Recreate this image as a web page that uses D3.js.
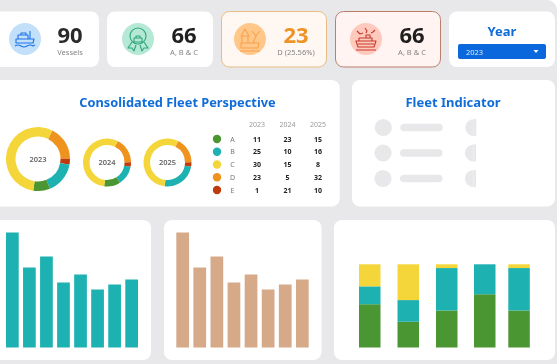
<!DOCTYPE html>
<html>
<head>
<meta charset="utf-8">
<script src="https://cdnjs.cloudflare.com/ajax/libs/d3/7.8.5/d3.min.js"></script>
<style>
  html, body { margin: 0; padding: 0; background: #e8e8ea; overflow: hidden; }
  text { font-family: "Noto Sans", "Open Sans", sans-serif; }
  /* source is a soft screenshot */
  svg { filter: blur(0.3px); }
</style>
</head>
<body>
<div id="chart"></div>
<script>
// kpi row
const kpiValues = ["90", "66", "23", "66"];
const kpiLabels = ["Vessels", "A, B & C", "D (25.56%)", "A, B & C"];

// donuts, shares
const years = ["2023", "2024", "2025"];
const sliceNames = ["D", "E", "B", "A", "C"];
const donut2023 = [17.5, 3, 16, 8.5, 55];
const donut2024 = [17.5, 3, 13, 11, 55.5];
const donut2025 = [17.5, 3, 24, 0, 55.5];

// legend table
const tableNames = ["A", "B", "C", "D", "E"];
const table2023 = [11, 25, 30, 23, 1];
const table2024 = [23, 10, 15, 5, 21];
const table2025 = [15, 16, 8, 32, 10];

// bottom bars
const barValues = [115, 80, 91, 65, 73, 58, 63, 68];
const stackKeys = ["A", "B", "C"];
const stackA = [52, 31, 44.5, 64, 44.5];
const stackB = [21.5, 26, 51, 36, 51];
const stackC = [26.5, 43, 4.5, 0, 4.5];

const colors = { A: "#4a9632", B: "#1eb1b2", C: "#f4d63a", D: "#ef931f", E: "#bf3a0c" };
const blue = "#0f6cd8";

const svg = d3.select("#chart").append("svg")
  .attr("width", 557)
  .attr("height", 364)
  .style("display", "block");

function card(x, y, w, h, fill, stroke) {
  return svg.append("rect")
    .attr("x", x).attr("y", y)
    .attr("width", w).attr("height", h)
    .attr("rx", 8)
    .attr("fill", fill || "#fff")
    .attr("stroke", stroke || "none");
}

// top right page corner
svg.append("path").attr("d", "M547,0H557V10A10,10 0 0 0 547,0Z").attr("fill", "#fff");

// ---- kpi cards
const kpiCards = [
  { x: -10, w: 109, fill: "#fff", cx: 25, tx: 70, num: "#2a2a2a", icon: "#1a73e8", disc: "#c3e0fa" },
  { x: 107, w: 106, fill: "#fff", cx: 138, tx: 184, num: "#1f1f1f", icon: "#2ea57e", disc: "#b5e8d5" },
  { x: 221.5, w: 105, fill: "#fff8f2", stroke: "#e8bc84", cx: 250, tx: 296, num: "#ee9426", icon: "#f8a24c", disc: "#ffc78a" },
  { x: 335.5, w: 105, fill: "#fff4f1", stroke: "#b97f6d", cx: 366, tx: 412, num: "#1f1f1f", icon: "#c4392b", disc: "#ffc9bd" }
];

const iconPaths = [
  // ship
  "M-9,4 L-9,0 H9 L8,4 Z M-7,0 V-4 H3 V0 M-4,-4 V-6 H1 V-4 M5,0 V-8 M-10,7 Q-7,5 -4,7 T2,7 T8,7 L10,6",
  // badge
  "M-8,-3 A8,8 0 1 1 8,-3 A8,8 0 1 1 -8,-3 Z M-4,-1 H4 V3 H-4 Z M-2,-1 V-3 H2 V-1 M-6,3 L-10,9 L-6,9 L-4,12 L-2,6 M6,3 L10,9 L6,9 L4,12 L2,6",
  // buoy and wreck
  "M-9,-3 L-5,-10 L-1,-3 Z M-8,-3 V4 H-2 V-3 M-9,4 H9 L8,9 H-9 Z M3,4 L6,-3 L2,-8 M6,-3 L10,-8 M-10,12 H10",
  // ship on fire
  "M-10,2 H10 L8,8 H-8 Z M-7,2 V-1 H6 V2 M0,-1 V-4 H4 V-1 M-8,5 H8 M-10,11 H10 M-9,-8 L-6,-5 L-3,-6 M-1,-11 L1,-8 L0,-6 M5,-6 L7,-7 L9,-9"
];

kpiCards.forEach((k, i) => {
  card(k.x, 11.5, k.w, 55.5, k.fill, k.stroke);

  svg.append("circle").attr("cx", k.cx).attr("cy", 39).attr("r", 16).attr("fill", k.disc);

  svg.append("path")
    .attr("transform", `translate(${k.cx},39)`)
    .attr("d", iconPaths[i])
    .attr("fill", "none")
    .attr("stroke", k.icon)
    .attr("stroke-width", 1.1)
    .attr("stroke-linejoin", "round");

  svg.append("text")
    .attr("x", k.tx).attr("y", 43)
    .attr("text-anchor", "middle")
    .attr("font-size", 22)
    .attr("font-weight", 700)
    .attr("fill", k.num)
    .text(kpiValues[i]);

  svg.append("text")
    .attr("x", k.tx).attr("y", 54.5)
    .attr("text-anchor", "middle")
    .attr("font-size", 7.5)
    .attr("fill", "#858585")
    .text(kpiLabels[i]);
});

// year selector
card(449, 11.5, 106, 55.5);
svg.append("text")
  .attr("x", 502).attr("y", 36)
  .attr("text-anchor", "middle")
  .attr("font-size", 13)
  .attr("font-weight", 700)
  .attr("fill", blue)
  .text("Year");
svg.append("rect")
  .attr("x", 458).attr("y", 44)
  .attr("width", 88).attr("height", 15)
  .attr("rx", 2)
  .attr("fill", "#0a68dc");
svg.append("text")
  .attr("x", 466).attr("y", 54.5)
  .attr("font-size", 7.5)
  .attr("fill", "#dfeaf8")
  .text("2023");
svg.append("path").attr("d", "M533.5,50 h5 l-2.5,3 Z").attr("fill", "#fff");

// ---- consolidated fleet
card(-10, 80, 349.7, 126.5);
svg.append("text")
  .attr("x", 177.5).attr("y", 107)
  .attr("text-anchor", "middle")
  .attr("font-size", 12.8)
  .attr("font-weight", 700)
  .attr("fill", blue)
  .text("Consolidated Fleet Perspective");

const pie = d3.pie()
  .sort(null)
  .startAngle(26.6 * Math.PI / 180)
  .endAngle((360 + 26.6) * Math.PI / 180);

[
  { values: donut2023, cx: 38, cy: 159, outer: 32, inner: 22.5, fs: 7.5 },
  { values: donut2024, cx: 107, cy: 162.5, outer: 24, inner: 17.5, fs: 7.5 },
  { values: donut2025, cx: 167.5, cy: 162.5, outer: 24, inner: 17.5, fs: 7.5 }
].forEach((d, i) => {
  const arc = d3.arc().innerRadius(d.inner).outerRadius(d.outer);
  const g = svg.append("g").attr("transform", `translate(${d.cx},${d.cy})`);
  g.selectAll("path")
    .data(pie(d.values))
    .join("path")
    .attr("d", arc)
    .attr("fill", (s, j) => colors[sliceNames[j]]);
  g.append("text")
    .attr("y", 2.5)
    .attr("text-anchor", "middle")
    .attr("font-size", d.fs)
    .attr("font-weight", 600)
    .attr("fill", "#666")
    .text(years[i]);
});

// legend table
const rowY = d3.scalePoint().domain(tableNames).range([139, 190]);
const colX = d3.scalePoint().domain(years).range([257, 318]);
const tableCols = [table2023, table2024, table2025];

svg.selectAll(".year-head")
  .data(years)
  .join("text")
  .attr("class", "year-head")
  .attr("x", d => colX(d))
  .attr("y", 127)
  .attr("text-anchor", "middle")
  .attr("font-size", 7)
  .attr("fill", "#999")
  .text(d => d);

svg.selectAll(".legend-dot")
  .data(tableNames)
  .join("circle")
  .attr("class", "legend-dot")
  .attr("cx", 217)
  .attr("cy", d => rowY(d))
  .attr("r", 4.2)
  .attr("fill", d => colors[d]);

svg.selectAll(".legend-name")
  .data(tableNames)
  .join("text")
  .attr("class", "legend-name")
  .attr("x", 232.5)
  .attr("y", d => rowY(d) + 2.5)
  .attr("text-anchor", "middle")
  .attr("font-size", 7)
  .attr("fill", "#777")
  .text(d => d);

years.forEach((yr, c) => {
  svg.selectAll(".cell-" + yr)
    .data(tableCols[c])
    .join("text")
    .attr("class", "cell-" + yr)
    .attr("x", colX(yr))
    .attr("y", (d, i) => rowY(tableNames[i]) + 2.5)
    .attr("text-anchor", "middle")
    .attr("font-size", 7)
    .attr("font-weight", 700)
    .attr("fill", "#222")
    .text(d => d);
});

// ---- fleet indicator, still loading
card(352, 80, 203, 126.5);
svg.append("text")
  .attr("x", 453).attr("y", 107)
  .attr("text-anchor", "middle")
  .attr("font-size", 13)
  .attr("font-weight", 700)
  .attr("fill", blue)
  .text("Fleet Indicator");

[0, 1, 2].forEach(i => {
  const y = 127.5 + i * 25.5;
  const sk = i === 0 ? 0.3 : 0;
  svg.append("circle").attr("cx", 383 + sk).attr("cy", y).attr("r", 8.6).attr("fill", "#e8e8ea");
  svg.append("rect")
    .attr("x", 400 + sk).attr("y", y - 3.8)
    .attr("width", 42.5).attr("height", 7.6)
    .attr("rx", 3.8)
    .attr("fill", "#e8e8ea");
  // second column is cut off at x = 476
  svg.append("path")
    .attr("d", d3.arc()({ innerRadius: 0, outerRadius: 8.6, startAngle: Math.PI, endAngle: 2 * Math.PI }))
    .attr("transform", `translate(${473.5 + sk},${y})`)
    .attr("fill", "#e8e8ea");
  svg.append("rect")
    .attr("x", 473.5 + sk).attr("y", y - 8.6)
    .attr("width", 2.5).attr("height", 17.2)
    .attr("fill", "#e8e8ea");
});

// ---- bottom bar cards
card(-10, 220, 161, 140);
card(164, 220, 157.5, 140);
card(334, 220, 221, 140);

const barIndex = barValues.map((d, i) => i);
const barY = d3.scaleLinear().domain([0, d3.max(barValues)]).range([347.5, 232.5]);

[{ x0: 6, x1: 138, fill: "#1eb1b2" }, { x0: 176.3, x1: 308.7, fill: "#d6aa88" }].forEach(p => {
  const barX = d3.scaleBand().domain(barIndex).range([p.x0, p.x1]).paddingInner(0.255);
  svg.append("g")
    .selectAll("rect")
    .data(barValues)
    .join("rect")
    .attr("x", (d, i) => barX(i))
    .attr("y", d => barY(d))
    .attr("width", barX.bandwidth())
    .attr("height", d => barY(0) - barY(d))
    .attr("fill", p.fill);
});

// stacked bars, gaps in the source are not even
const stackRows = stackA.map((d, i) => ({ name: i, A: d, B: stackB[i], C: stackC[i] }));
const series = d3.stack().keys(stackKeys)(stackRows);
const stackX = d3.scaleOrdinal().domain(barIndex.slice(0, 5)).range([359, 397.5, 436, 474, 508.3]);
const stackY = d3.scaleLinear().domain([0, 100]).range([347.5, 264.3]);

svg.append("g")
  .selectAll("g")
  .data(series)
  .join("g")
  .attr("fill", d => colors[d.key])
  .selectAll("rect")
  .data(d => d)
  .join("rect")
  .attr("x", d => stackX(d.data.name))
  .attr("y", d => stackY(d[1]))
  .attr("width", 21.5)
  .attr("height", d => stackY(d[0]) - stackY(d[1]));
</script>
</body>
</html>
